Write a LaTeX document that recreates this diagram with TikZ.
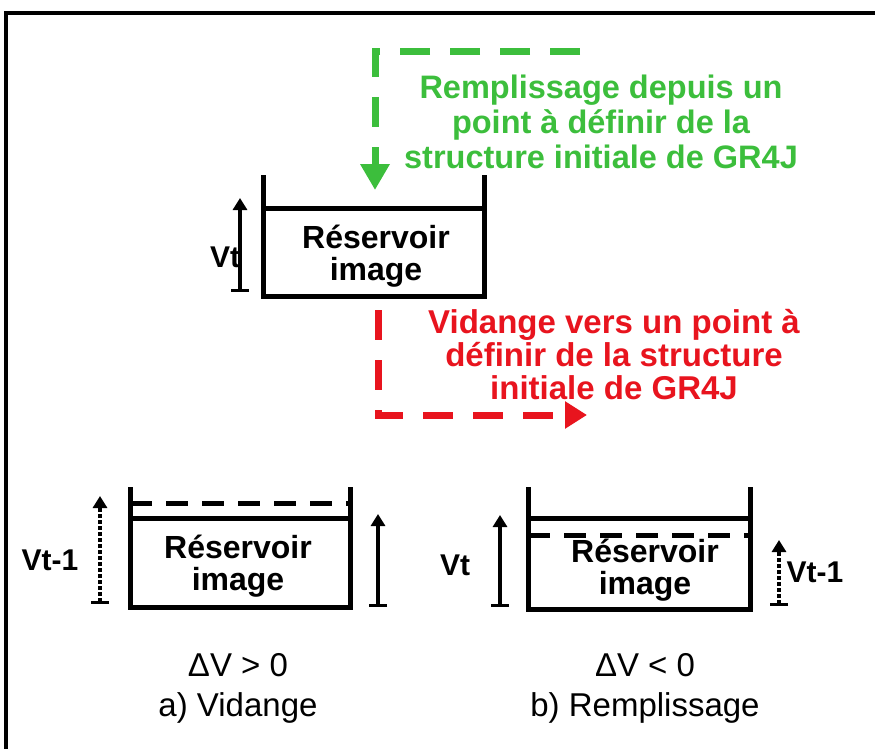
\documentclass[tikz,border=0pt]{standalone}
\usepackage{fontspec}
\setmainfont{Liberation Sans}
\usetikzlibrary{arrows.meta}
\definecolor{vgreen}{RGB}{60,190,60}
\definecolor{vred}{RGB}{232,20,30}
\begin{document}
\begin{tikzpicture}[x=1pt,y=-1pt,
  frame/.style={line width=3.5pt},
  wall/.style={line width=5pt,line join=miter},
  level/.style={line width=5pt},
  oldlevel/.style={line width=5pt,dash pattern=on 22pt off 14pt},
  vol/.style={line width=4pt,{Bar[width=18pt,line width=3pt]}-{Triangle[length=12pt,width=14pt]}},
  oldvol/.style={vol,dash pattern=on 4pt off 2pt},
  gpath/.style={vgreen,line width=7pt,dash pattern=on 30pt off 20pt,-{Triangle[length=26pt,width=28pt]}},
  rpath/.style={vred,line width=7pt,dash pattern=on 30pt off 20pt,-{Triangle[length=22pt,width=26pt]}},
  restext/.style={align=center,font=\fontsize{32}{32}\selectfont\bfseries},
  lbl/.style={font=\fontsize{30}{32}\selectfont\bfseries},
  gtext/.style={vgreen,align=center,font=\fontsize{32.5}{35}\selectfont\bfseries},
  rtext/.style={vred,align=center,font=\fontsize{33}{33}\selectfont\bfseries},
  captext/.style={font=\fontsize{33}{34}\selectfont}
]
\useasboundingbox (0,0) rectangle (875,749);
\draw[frame] (6,749) -- (6,13) -- (875,13);

% top reservoir
\draw[wall] (263,175) -- (263,296) -- (484,296) -- (484,175);
\draw[level] (263,208) -- (484,208);
\node[restext] (r1) at (376,256) {Réservoir\\image};
\coordinate (v1b) at (240,292);
\coordinate (v1t) at (240,198);
\draw[vol] (v1b) -- (v1t);
\node[lbl] (vt1) at (225,257) {Vt};

% green path
\coordinate (g0) at (580,52);
\coordinate (g1) at (375,52);
\coordinate (g2) at (375,190);
\draw[gpath] (g0) -- (g1) -- (g2);
\node[gtext] (gt) at (601,122) {Remplissage depuis un\\point à définir de la\\structure initiale de GR4J};

% red path
\coordinate (d0) at (378,310);
\coordinate (d1) at (378,415);
\coordinate (d2) at (587,415);
\draw[rpath] (d0) -- (d1) -- (d2);
\node[rtext] (rt) at (614,355) {Vidange vers un point à\\définir de la structure\\initiale de GR4J};

% bottom left reservoir
\draw[wall] (130,487) -- (130,607) -- (350,607) -- (350,487);
\draw[level] (130,518) -- (350,518);
\draw[oldlevel] (130,503) -- (350,503);
\node[restext] (r2) at (238,566) {Réservoir\\image};
\coordinate (a1b) at (100,604);
\coordinate (a1t) at (100,496);
\draw[oldvol] (a1b) -- (a1t);
\node[lbl] (vtm1a) at (50,560) {Vt-1};
\coordinate (a2b) at (378,607);
\coordinate (a2t) at (378,514);
\draw[vol] (a2b) -- (a2t);
\node[lbl] (vt2) at (455,565) {Vt};

% bottom right reservoir
\draw[wall] (528,487) -- (528,609) -- (750,609) -- (750,487);
\draw[level] (528,518) -- (750,518);
\draw[oldlevel] (528,535) -- (750,535);
\node[restext] (r3) at (645,570) {Réservoir\\image};
\coordinate (b1b) at (500,607);
\coordinate (b1t) at (500,515);
\draw[vol] (b1b) -- (b1t);
\coordinate (b2b) at (779,606);
\coordinate (b2t) at (779,540);
\draw[oldvol] (b2b) -- (b2t);
\node[lbl] (vtm1b) at (815,572) {Vt-1};

% captions
\node[captext] (c1) at (238,665) {ΔV > 0};
\node[captext] (c2) at (238,708) {a) Vidange};
\node[captext] (c3) at (645,665) {ΔV < 0};
\node[captext] (c4) at (645,708) {b) Remplissage};
\end{tikzpicture}
\end{document}
